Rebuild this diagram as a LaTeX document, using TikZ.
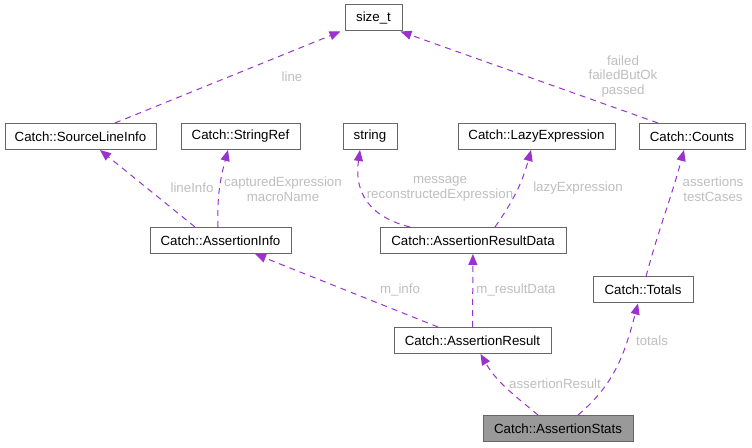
\documentclass[tikz,border=0pt]{standalone}
\usepackage{fontspec}
\setmainfont{Liberation Sans}
\usetikzlibrary{arrows.meta}
\definecolor{edgecol}{HTML}{9A32CD}
\definecolor{labcol}{HTML}{BEBEBE}
\definecolor{boxcol}{HTML}{666666}
\begin{document}
\begin{tikzpicture}[x=1pt,y=1pt,
    cls/.style={draw=boxcol,line width=1pt,fill=white,minimum height=26pt,inner sep=0pt,
      font=\fontsize{13.3}{14.5}\selectfont},
    edge/.style={draw=edgecol,line width=1pt,dash pattern=on 6pt off 5pt,
      -{Triangle[length=11pt,width=9pt,fill=edgecol]}},
    lab/.style={text=labcol,align=center,inner sep=0pt,font=\fontsize{13.3}{14.5}\selectfont}]
                \useasboundingbox (0,0) rectangle (752,447);
                \node[cls,minimum width=57pt] (size) at (373.5,429) {size\_t};
                \node[cls,minimum width=151pt] (sli) at (80.5,310.5) {Catch::SourceLineInfo};
                \node[cls,minimum width=119pt] (sref) at (240.5,310.5) {Catch::StringRef};
                \node[cls,minimum width=54pt] (str) at (370,310.5) {string};
                \node[cls,minimum width=157pt] (lazy) at (536.5,310.5) {Catch::LazyExpression};
                \node[cls,minimum width=106pt] (counts) at (692,310.5) {Catch::Counts};
                \node[cls,minimum width=141pt] (info) at (220.5,206.5) {Catch::AssertionInfo};
                \node[cls,minimum width=186pt] (rdata) at (473,206.5) {Catch::AssertionResultData};
                \node[cls,minimum width=100pt] (totals) at (643,157) {Catch::Totals};
                \node[cls,minimum width=157pt] (result) at (472.5,106.5) {Catch::AssertionResult};
                \node[cls,minimum width=150pt,fill=black!40] (stats) at (558,18.5) {Catch::AssertionStats};

                \draw[edge] ([xshift=34.5pt]sli.north) -- ([xshift=-4pt]size.south west);
                \draw[edge] ([xshift=-34pt]counts.north) -- ([xshift=-2pt]size.south east);
                \draw[edge] ([xshift=-25.5pt]info.north) -- ([xshift=19.5pt]sli.south);
                \draw[edge] ([xshift=-2.5pt]info.north) to[out=92,in=-105] ([xshift=-12.5pt]sref.south);
                \draw[edge] ([xshift=-63pt]rdata.north) .. controls (362,232) and (355,262) .. ([xshift=-10pt]str.south);
                \draw[edge] ([xshift=22pt]rdata.north) to[out=55,in=-105] ([xshift=-5.5pt]lazy.south);
                \draw[edge] ([xshift=-34.5pt]result.north) -- ([xshift=34.5pt]info.south);
                \draw[edge] (result) -- (rdata);
                \draw[edge] ([xshift=3pt]totals.north) to[out=75,in=-105] ([xshift=-8pt]counts.south);
                \draw[edge] ([xshift=-20pt]stats.north) to[out=140,in=-60] ([xshift=8pt]result.south);
                \draw[edge] ([xshift=20pt]stats.north) to[out=40,in=-105] ([xshift=-5pt]totals.south);

                \node[lab] (l1) at (292,370) {line};
                \node[lab] (l2) at (623,370.5) {failed\\failedButOk\\passed};
                \node[lab] (l3) at (192,259) {lineInfo};
                \node[lab] (l4) at (283,258) {capturedExpression\\macroName};
                \node[lab] (l5) at (440,258) {message\\reconstructedExpression};
                \node[lab] (l6) at (578,259) {lazyExpression};
                \node[lab] (l7) at (400,157) {m\_info};
                \node[lab] (l8) at (516,157) {m\_resultData};
                \node[lab] (l9) at (713,258) {assertions\\testCases};
                \node[lab] (l10) at (555,63) {assertionResult};
                \node[lab] (l11) at (652,106) {totals};
            \end{tikzpicture}
\end{document}
